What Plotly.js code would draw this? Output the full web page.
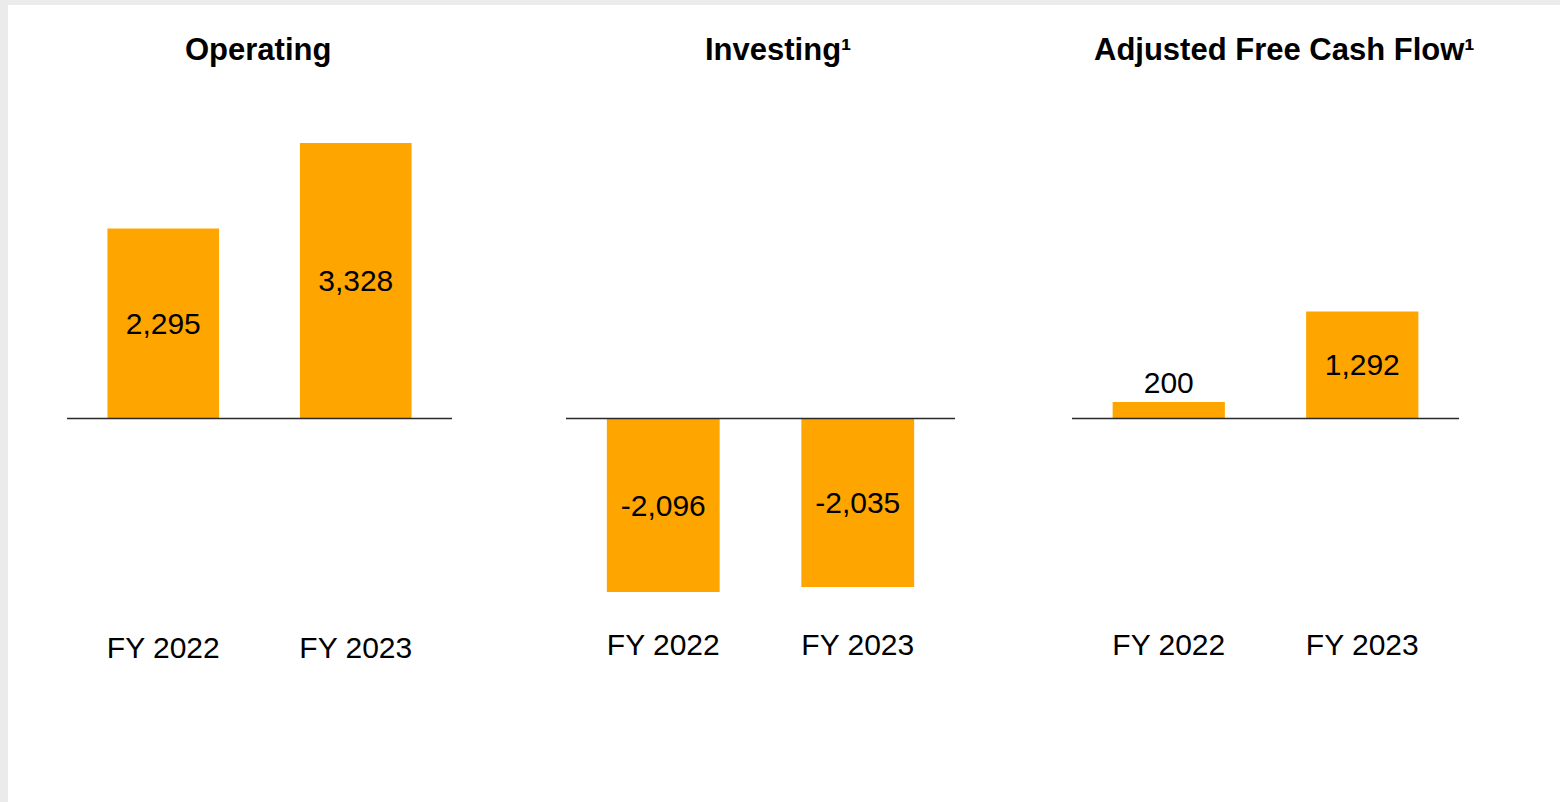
<!DOCTYPE html>
<html>
<head>
<meta charset="utf-8">
<script src="https://cdn.plot.ly/plotly-3.0.1.min.js"></script>
<style>
html,body{margin:0;padding:0;background:#ebebeb;}
#chart{width:1560px;height:802px;}
</style>
</head>
<body>
<div id="chart"></div>
<script>
// ---- data ----
const categories = ['FY 2022', 'FY 2023'];
const panelTitles = ['<b>Operating</b>', '<b>Investing¹</b>', '<b>Adjusted Free Cash Flow¹</b>'];
const operating = [2295, 3328];
const investing = [-2096, -2035];
const adjustedFCF = [200, 1292];
const operatingLabels = ['2,295', '3,328'];
const investingLabels = ['-2,096', '-2,035'];
const adjustedFCFLabels = ['200', '1,292'];

// ---- styling ----
const W = 1560, H = 802;
const FONT = 'Liberation Sans, Arial, sans-serif';
const ORANGE = 'rgb(255,165,0)';
const px = v => v / W;
const py = v => 1 - v / H;

const series = [operating, investing, adjustedFCF];
const labels = [operatingLabels, investingLabels, adjustedFCFLabels];
const positions = [['inside','inside'], ['inside','inside'], ['outside','inside']];
const xDomains = [[px(67), px(452)], [px(566), px(955)], [px(1072), px(1459)]];
const titleX = [257.5, 778, 1284.5];
const standoff = [7, 4, 4];

const traces = series.map((vals, i) => ({
  type: 'bar',
  x: categories,
  y: vals,
  text: labels[i],
  texttemplate: '%{text}',
  textposition: positions[i],
  insidetextanchor: 'middle',
  constraintext: 'none',
  cliponaxis: false,
  textfont: {family: FONT, size: 30, color: '#000'},
  insidetextfont: {family: FONT, size: 30, color: '#000'},
  outsidetextfont: {family: FONT, size: 30, color: '#000'},
  marker: {color: ORANGE, line: {width: 0}},
  width: 0.58,
  xaxis: i === 0 ? 'x' : 'x' + (i + 1),
  yaxis: i === 0 ? 'y' : 'y' + (i + 1),
  hoverinfo: 'skip',
  showlegend: false
}));

const layout = {
  width: W, height: H,
  margin: {l: 0, r: 0, t: 0, b: 0, pad: 0},
  paper_bgcolor: '#ebebeb',
  plot_bgcolor: 'rgba(0,0,0,0)',
  font: {family: FONT, color: '#000'},
  showlegend: false,
  shapes: [
    {type: 'rect', xref: 'paper', yref: 'paper', x0: px(8), x1: 1, y0: 0, y1: py(5),
     fillcolor: '#ffffff', line: {width: 0}, layer: 'below'}
  ],
  annotations: []
};

const yDomain = [py(620), py(87.3)];
for (let i = 0; i < 3; i++) {
  const sx = i === 0 ? '' : String(i + 1);
  layout['xaxis' + sx] = {
    domain: xDomains[i],
    anchor: 'y' + sx,
    type: 'category',
    range: [-0.5, 1.5],
    showgrid: false, zeroline: false, showline: false,
    ticks: '', ticklabelstandoff: standoff[i],
    tickfont: {family: FONT, size: 30, color: '#000'},
    fixedrange: true
  };
  layout['yaxis' + sx] = {
    domain: yDomain,
    anchor: 'x' + sx,
    range: [-2434, 4000],
    showgrid: false, zeroline: false, showline: false,
    showticklabels: false, ticks: '',
    fixedrange: true
  };
  layout.shapes.push({
    type: 'line', xref: 'x' + sx + ' domain', yref: 'y' + sx,
    x0: 0, x1: 1, y0: 0, y1: 0,
    line: {color: '#2a2a2a', width: 1.5}, layer: 'above'
  });
  layout.annotations.push({
    xref: 'paper', yref: 'paper', x: px(titleX[i]), y: py(49),
    xanchor: 'center', yanchor: 'middle', showarrow: false,
    text: panelTitles[i],
    font: {family: FONT, size: 31, color: '#000'}
  });
}

Plotly.newPlot('chart', traces, layout, {displayModeBar: false, staticPlot: true});
</script>
</body>
</html>
